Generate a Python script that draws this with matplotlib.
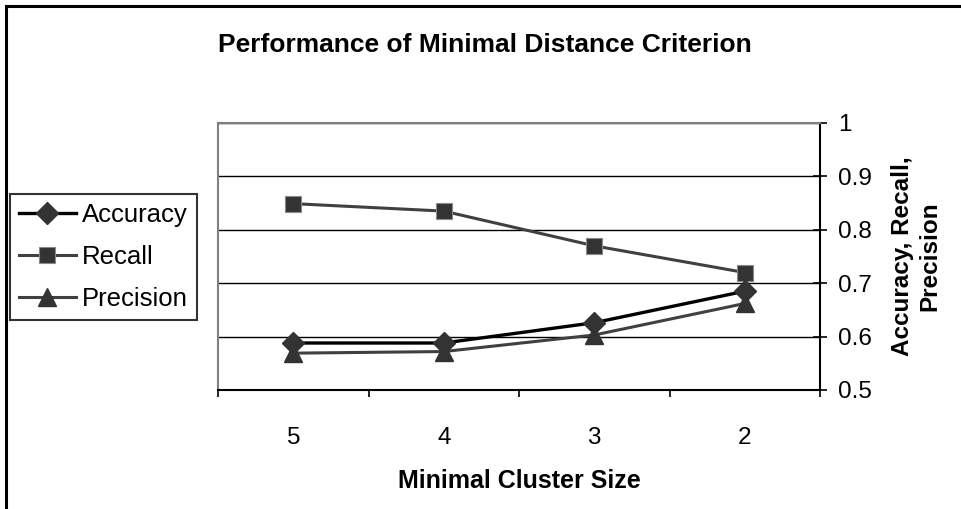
import matplotlib
matplotlib.use('Agg')
import matplotlib.pyplot as plt
from matplotlib.patches import Rectangle

plt.rcParams['font.family'] = ['Liberation Sans', 'DejaVu Sans']

# values
cluster_sizes = ['5', '4', '3', '2']
accuracy = [0.588, 0.588, 0.626, 0.685]
recall = [0.849, 0.835, 0.770, 0.720]
precision = [0.569, 0.572, 0.603, 0.662]
y_ticks = [0.5, 0.6, 0.7, 0.8, 0.9, 1.0]
y_tick_labels = ['0.5', '0.6', '0.7', '0.8', '0.9', '1']


def main():
    W, H = 962, 509
    fig = plt.figure(figsize=(W / 100, H / 100), dpi=100)

    # chart-area border (only top and left visible in the reference)
    fig.patches.append(Rectangle((6 / W, -0.05), 1.1, 1 - 6 / H + 0.05,
                                 transform=fig.transFigure, fill=False,
                                 edgecolor='black', linewidth=2.2))

    ax = fig.add_axes([218 / W, 1 - 390 / H, (820 - 218) / W, (390 - 123) / H])
    xs = list(range(len(cluster_sizes)))

    ax.plot(xs, accuracy, color='black', lw=2.4, marker='D', ms=11,
            markerfacecolor='#333333', markeredgecolor='#333333', label='Accuracy', zorder=4)
    ax.plot(xs, recall, color='#404040', lw=2.2, marker='s', ms=11.5,
            markerfacecolor='#333333', markeredgecolor='#8a8a8a', markeredgewidth=0.8,
            label='Recall', zorder=3)
    ax.plot(xs, precision, color='#404040', lw=2.2, marker='^', ms=13,
            markerfacecolor='#333333', markeredgecolor='#333333', label='Precision', zorder=3)

    ax.set_xlim(-0.5, len(cluster_sizes) - 0.5)
    ax.set_ylim(0.5, 1.0)

    # category axis: tick marks on boundaries, labels in the middle
    ax.set_xticks([i - 0.5 for i in range(len(cluster_sizes) + 1)])
    ax.set_xticklabels([])
    ax.set_xticks(xs, minor=True)
    ax.set_xticklabels(cluster_sizes, minor=True)
    ax.tick_params(axis='x', which='major', direction='out', length=5, width=1.2, color='black')
    ax.tick_params(axis='x', which='minor', length=0, pad=27, labelsize=17.5)

    ax.yaxis.tick_right()
    ax.set_yticks(y_ticks)
    ax.set_yticklabels(y_tick_labels)
    ax.tick_params(axis='y', direction='inout', length=10, width=1.2, pad=8, labelsize=17.5)
    ax.grid(axis='y', color='black', lw=1.0)
    ax.set_axisbelow(True)

    for side in ['top', 'left']:
        ax.spines[side].set_color('#808080')
        ax.spines[side].set_linewidth(1.5)
    for side in ['bottom', 'right']:
        ax.spines[side].set_color('black')
        ax.spines[side].set_linewidth(1.5)

    ax.yaxis.set_label_position('right')
    ax.set_ylabel('Accuracy, Recall,\nPrecision', fontsize=17.5, fontweight='bold',
                  rotation=90, labelpad=14, linespacing=1.2)
    ax.set_xlabel('Minimal Cluster Size', fontsize=18, fontweight='bold', labelpad=14)

    fig.text(485 / W, 1 - 45 / H, 'Performance of Minimal Distance Criterion',
             ha='center', va='center', fontsize=19, fontweight='bold')

    leg = fig.legend(loc='upper left', bbox_to_anchor=(10 / W, 1 - 194 / H),
                     fontsize=18.5, frameon=True, fancybox=False, handlelength=2.2,
                     handletextpad=0.25, labelspacing=0.7, borderpad=0.35,
                     borderaxespad=0)
    leg.get_frame().set_edgecolor('black')
    leg.get_frame().set_linewidth(1.5)

    fig.savefig('out.png', dpi=100)


if __name__ == '__main__':
    main()
